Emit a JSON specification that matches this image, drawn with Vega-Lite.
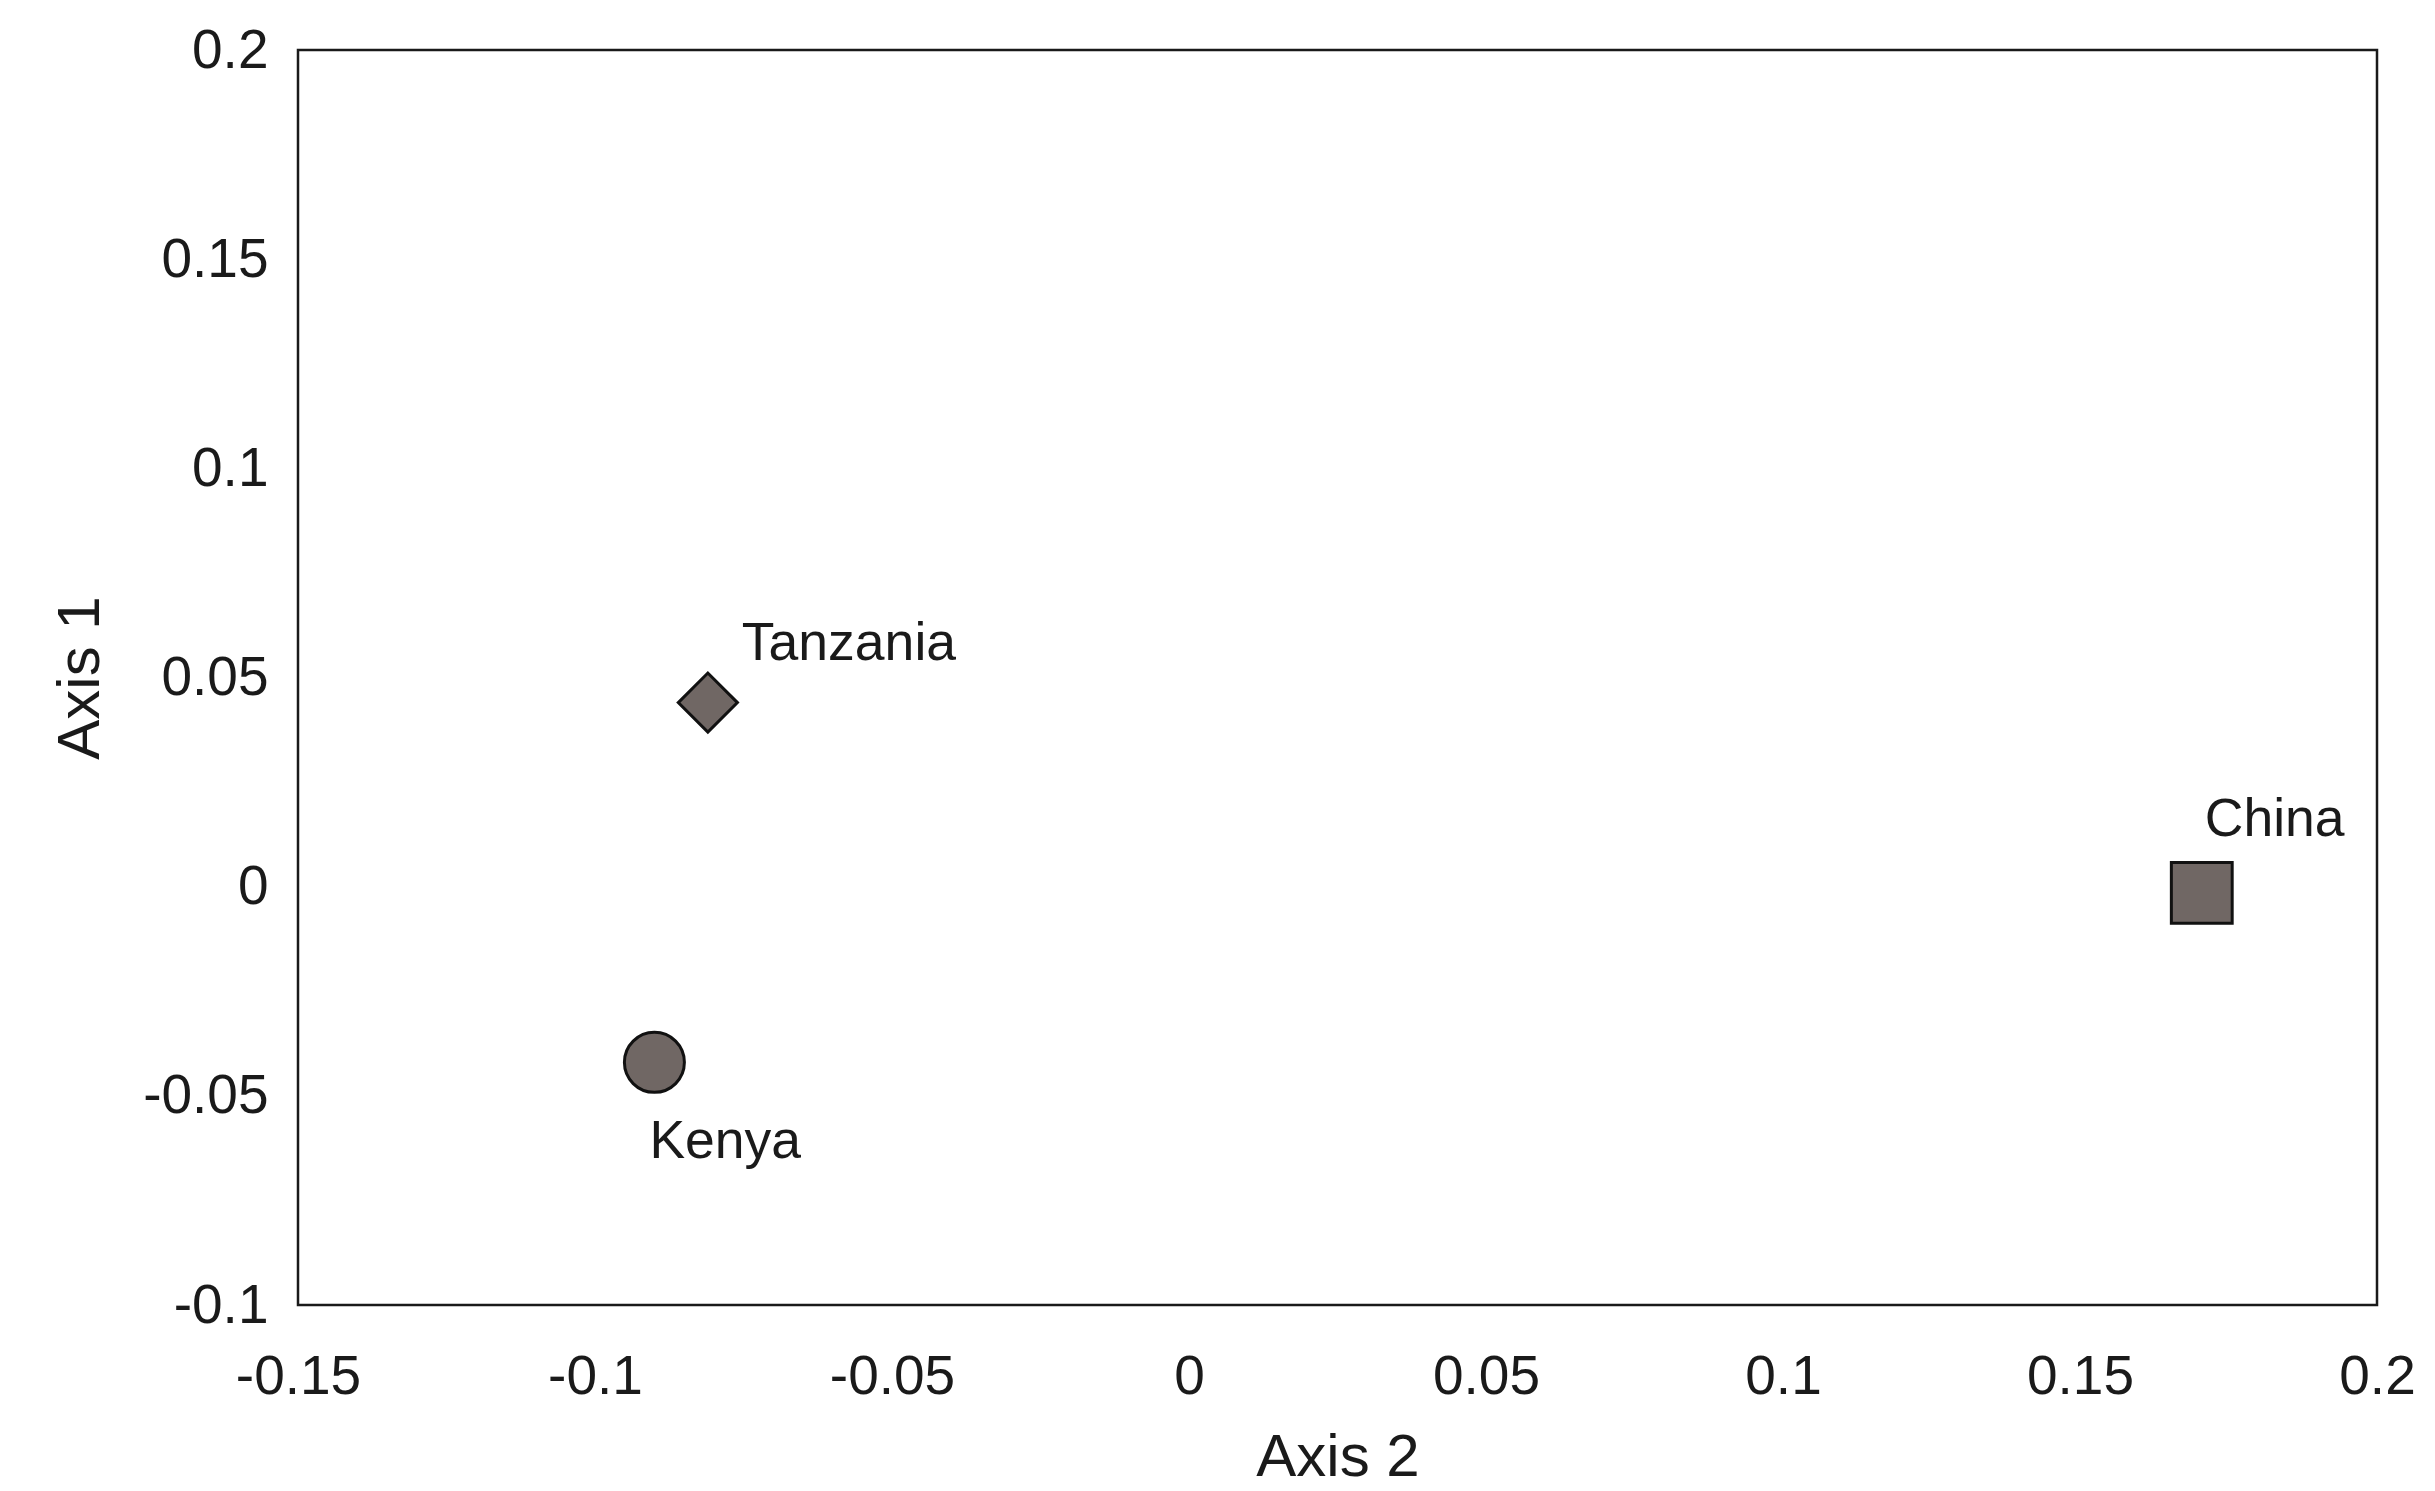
{
  "$schema": "https://vega.github.io/schema/vega-lite/v6.json",
  "width": 2079,
  "height": 1255,
  "autosize": "none",
  "padding": {"left": 298, "top": 50, "right": 58, "bottom": 186},
  "background": "white",
  "config": {
    "font": "Liberation Sans",
    "view": {"stroke": "#1a1a1a", "strokeWidth": 2.5},
    "axis": {"grid": false, "ticks": false, "domain": false, "labelFont": "Liberation Sans", "titleFont": "Liberation Sans", "labelFontSize": 55, "titleFontSize": 60, "labelColor": "#1a1a1a", "titleColor": "#1a1a1a", "titleFontWeight": "normal", "labelExpr": "toString(datum.value)"}
  },
  "data": {"values": [
    {"country": "Tanzania", "axis2": -0.081, "axis1": 0.044, "shape": "diamond"},
    {"country": "Kenya", "axis2": -0.090, "axis1": -0.042, "shape": "circle"},
    {"country": "China", "axis2": 0.1705, "axis1": -0.0015, "shape": "square"}
  ]},
  "encoding": {
    "x": {"field": "axis2", "type": "quantitative", "title": "Axis 2",
      "scale": {"domain": [-0.15, 0.2], "nice": false, "zero": false},
      "axis": {"values": [-0.15, -0.1, -0.05, 0, 0.05, 0.1, 0.15, 0.2], "labelPadding": 45, "titlePadding": 24, "labelFlush": false}},
    "y": {"field": "axis1", "type": "quantitative", "title": "Axis 1",
      "scale": {"domain": [-0.1, 0.2], "nice": false, "zero": false},
      "axis": {"values": [-0.1, -0.05, 0, 0.05, 0.1, 0.15, 0.2], "labelPadding": 30, "titlePadding": 31, "labelFlush": false}}
  },
  "layer": [
    {
      "mark": {"type": "point", "filled": true, "fill": "#706764", "stroke": "#111111", "strokeWidth": 3, "opacity": 1},
      "encoding": {
        "shape": {"field": "shape", "type": "nominal", "scale": {"domain": ["diamond", "circle", "square"], "range": ["diamond", "circle", "square"]}, "legend": null},
        "size": {"field": "shape", "type": "nominal", "scale": {"domain": ["diamond", "circle", "square"], "range": [3500, 3700, 3800]}, "legend": null}
      }
    },
    {
      "transform": [{"filter": "datum.country === 'Tanzania'"}],
      "mark": {"type": "text", "align": "left", "baseline": "middle", "dx": 34, "dy": -59, "fontSize": 53.5, "color": "#1a1a1a"},
      "encoding": {"text": {"field": "country"}}
    },
    {
      "transform": [{"filter": "datum.country === 'Kenya'"}],
      "mark": {"type": "text", "align": "left", "baseline": "middle", "dx": -5, "dy": 80, "fontSize": 53.5, "color": "#1a1a1a"},
      "encoding": {"text": {"field": "country"}}
    },
    {
      "transform": [{"filter": "datum.country === 'China'"}],
      "mark": {"type": "text", "align": "left", "baseline": "middle", "dx": 3, "dy": -73, "fontSize": 53.5, "color": "#1a1a1a"},
      "encoding": {"text": {"field": "country"}}
    }
  ]
}
